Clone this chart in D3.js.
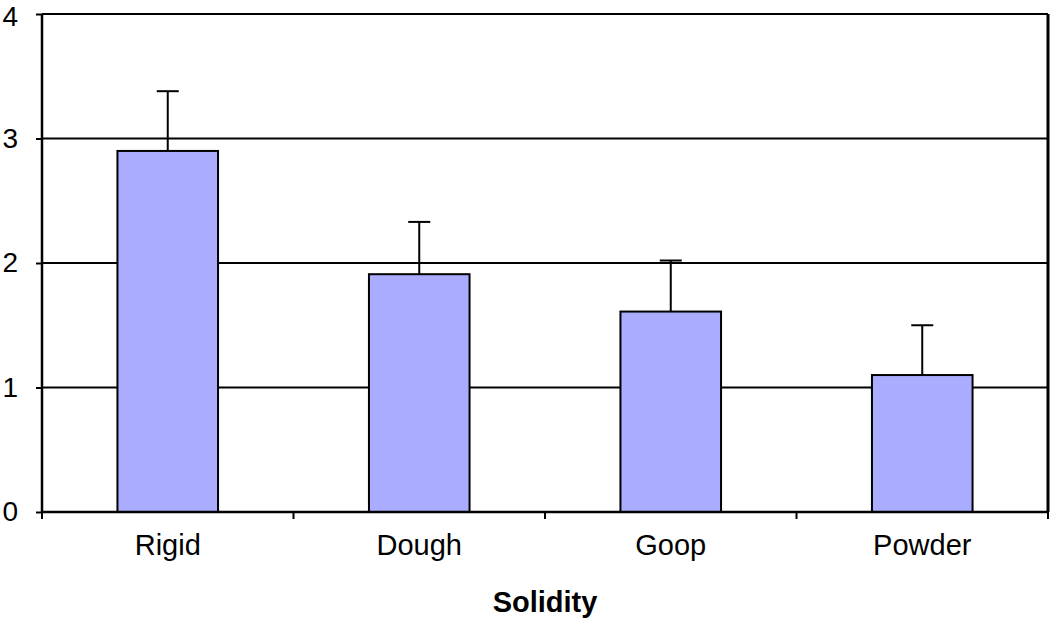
<!DOCTYPE html>
<html><head><meta charset="utf-8">
<script src="https://cdn.jsdelivr.net/npm/d3@7"></script>
<style>body{margin:0;background:#fff}svg{display:block}</style>
</head><body>
<svg id="c" width="1050" height="621"></svg>
<script>
const categories = ["Rigid","Dough","Goop","Powder"];
const values = [2.90, 1.91, 1.61, 1.10];
const errors = [0.48, 0.42, 0.41, 0.40];
const yTicks = [0,1,2,3,4];
const xTitle = "Solidity";

const svg = d3.select("#c");
const m = {l:42, r:2, t:14, b:109};
const W = 1050, H = 621;
const x = d3.scaleBand().domain(categories).range([m.l, W - m.r]).padding(0);
const y = d3.scaleLinear().domain([0,4]).range([H - m.b, m.t]);
const font = "'Liberation Sans', Arial, sans-serif";

// gridlines
svg.append("g").selectAll("line").data(yTicks.slice(1)).join("line")
  .attr("x1", m.l).attr("x2", W - m.r)
  .attr("y1", d => y(d)).attr("y2", d => y(d))
  .attr("stroke", "#000").attr("stroke-width", 2);
// right border
svg.append("line").attr("x1", W - m.r).attr("x2", W - m.r)
  .attr("y1", y(4)).attr("y2", y(0)).attr("stroke", "#000").attr("stroke-width", 3);

// bars
const bw = x.bandwidth() * 0.4;
svg.append("g").selectAll("rect").data(categories).join("rect")
  .attr("x", d => x(d) + x.bandwidth()/2 - bw/2)
  .attr("y", (d,i) => y(values[i]))
  .attr("width", bw)
  .attr("height", (d,i) => y(0) - y(values[i]))
  .attr("fill", "#aaacff").attr("stroke", "#000").attr("stroke-width", 2);

// error bars
const eg = svg.append("g").attr("stroke", "#000").attr("stroke-width", 2);
categories.forEach((c,i) => {
  const cx = x(c) + x.bandwidth()/2;
  eg.append("line").attr("x1", cx).attr("x2", cx)
    .attr("y1", y(values[i])).attr("y2", y(values[i] + errors[i]));
  eg.append("line").attr("x1", cx - 11).attr("x2", cx + 11)
    .attr("y1", y(values[i] + errors[i])).attr("y2", y(values[i] + errors[i]));
});

// y axis
const ya = svg.append("g").attr("transform", `translate(${m.l},0)`)
  .call(d3.axisLeft(y).tickValues(yTicks).tickFormat(d3.format("d")).tickSize(6).tickPadding(18));
ya.select(".domain").attr("stroke-width", 2.5).attr("d", `M-0,${y(4)}V${y(0)}`);
ya.selectAll(".tick line").attr("stroke-width", 2);
ya.selectAll("text").attr("font-family", font).attr("font-size", 28).attr("fill", "#000")
  .attr("y", d => d === 4 ? 3 : 0);

// x axis
const xa = svg.append("g").attr("transform", `translate(0,${y(0)})`)
  .call(d3.axisBottom(x).tickSize(0).tickPadding(22));
xa.select(".domain").attr("stroke-width", 2.5).attr("d", `M${m.l},0H${W - m.r}`);
xa.selectAll("text").attr("font-family", font).attr("font-size", 29).attr("fill", "#000");
// category separator ticks
const bounds = categories.map(c => x(c)).concat([W - m.r]);
xa.append("g").selectAll("line").data(bounds).join("line")
  .attr("x1", d => d).attr("x2", d => d).attr("y1", 0).attr("y2", 7)
  .attr("stroke", "#000").attr("stroke-width", 2);

svg.append("text").attr("x", (m.l + W - m.r)/2).attr("y", 612)
  .attr("text-anchor", "middle").attr("font-family", font).attr("font-size", 29)
  .attr("font-weight", "bold").text(xTitle);
</script>
</body></html>
